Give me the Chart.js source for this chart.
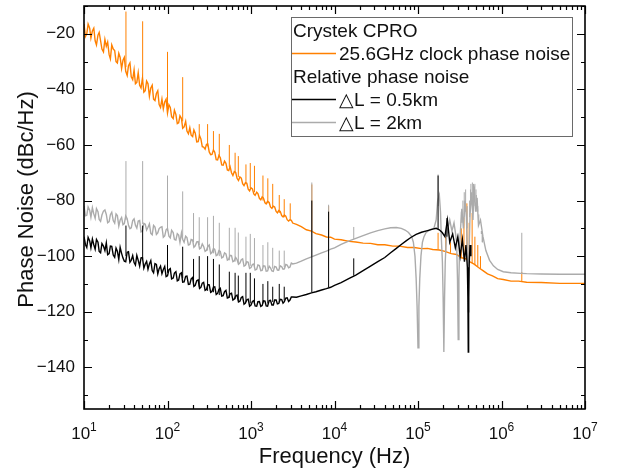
<!DOCTYPE html>
<html>
<head>
<meta charset="utf-8">
<script src="https://cdn.jsdelivr.net/npm/chart.js@4"></script>
<style>
  html, body { margin: 0; padding: 0; background: #fff; }
  #wrap { width: 620px; height: 472px; }
</style>
</head>
<body>
<div id="wrap"><canvas id="pnChart" width="620" height="472"></canvas></div>
<script>
// offset frequency grids for the noisy low part (Hz), shared by the three traces
const freqLow = [10, 10.8, 11.7, 12.6, 13.6, 14.7, 15.8, 17.1, 18.5, 20,
  21.5, 23.3, 25.1, 27.1, 29.3, 31.6, 34.1, 36.8, 39.8, 42.9,
  46.4, 50.1, 54.1, 58.4, 63.1, 68.1, 73.6, 79.4, 85.8, 92.6,
  100, 108, 117, 126, 136, 147, 158, 171, 185, 200,
  215, 233, 251, 271, 293, 316, 341, 368, 398, 429,
  464, 501, 541, 584, 631, 681, 736, 794, 858, 926,
  1000, 1080, 1170, 1260, 1360, 1470, 1580, 1710, 1850, 2000,
  2150, 2330, 2510, 2710, 2930, 3160];
const freqMid = [10.4, 11.2, 12.1, 13.1, 14.1, 15.2, 16.4, 17.8, 19.2, 20.7,
  22.4, 24.2, 26.1, 28.2, 30.4, 32.9, 35.5, 38.3, 41.3, 44.6,
  48.2, 52.1, 56.2, 60.7, 65.6, 70.8, 76.5, 82.5, 89.1, 96.2,
  104, 112, 121, 131, 141, 152, 165, 178, 192, 207,
  224, 242, 261, 282, 304, 329, 355, 383, 413, 446,
  482, 521, 562, 607, 656, 708, 765, 825, 891, 962,
  1040, 1120, 1210, 1310, 1410, 1520, 1650, 1780, 1920, 2070,
  2240, 2420, 2610, 2820, 3040];

// Crystek CPRO 25.6GHz clock phase noise (dBc/Hz)
const orangeLow = [-16.5, -20, -18, -19, -22.5, -20.5, -22.5, -26.5, -24.5, -27.5,
  -24, -26, -30.5, -28.5, -29.5, -33.5, -31.5, -35.5, -33, -37.5,
  -38.5, -36, -40.5, -38, -39.5, -43.5, -41.5, -45.5, -43.5, -44.5,
  -48.5, -46.5, -50.5, -49, -52, -50.5, -53.5, -55, -53.8, -57,
  -55.8, -58.8, -57.8, -60.8, -59.8, -62.5, -63.4, -62.6, -65.4, -64.6,
  -67.3, -66.6, -69.2, -70, -69.6, -72, -71.5, -73.9, -73.6, -75.9,
  -75.4, -77.6, -77, -79.2, -78.7, -80.8, -80.3, -82.3, -82, -83.9,
  -83.6, -85.4, -85.2, -86.9, -86.9, -88.1];
const orangeMid = [-21, -16.5, -21.5, -18, -24, -19.5, -25.5, -22, -23, -29,
  -25.5, -30, -27, -32.5, -28.5, -35, -30.5, -36.5, -38, -34,
  -39.5, -41, -37, -42.5, -38.5, -44, -40.5, -46.5, -47, -43.5,
  -45.5, -49.8, -47.5, -52.3, -49.5, -54, -51.5, -56, -56.5, -54.6,
  -58.9, -56.6, -60.6, -61.5, -59.7, -63.5, -61.8, -65.3, -63.8, -67.2,
  -65.8, -69, -67.8, -71, -69.9, -72.8, -71.9, -74.6, -73.8, -76.5,
  -75.8, -78.1, -77.5, -79.7, -79.1, -81.2, -80.7, -82.8, -82.3, -84.4,
  -83.9, -85.9, -85.6, -87.4, -87.1];
const orangeHighF = [3500, 4000, 4600, 5300, 6000, 7000, 8000, 9000, 10000, 12000,
  15000, 18000, 22000, 27000, 33000, 40000, 50000, 60000, 75000, 90000,
  110000, 130000, 150000, 180000, 210000, 250000, 290000, 330000, 370000, 420000,
  470000, 530000, 600000, 680000, 780000, 900000, 1050000, 1300000, 1600000, 2000000,
  3000000, 5000000, 10000000];
const orangeHigh = [-88.6, -89.4, -90.5, -91, -91.9, -92.4, -93.1, -93.2, -93.9, -94.1,
  -94.7, -94.9, -95.3, -95.4, -95.9, -95.9, -96.4, -96.4, -96.9, -96.9,
  -97.3, -97.2, -97.6, -97.8, -98.3, -99.1, -99.4, -100.6, -100.9, -102.1,
  -102.9, -104.1, -105.2, -106.4, -107.1, -108.1, -108.4, -109, -109, -109.4,
  -109.5, -109.8, -109.8];
const orangeSpikeF = [31.8, 50.4, 100, 152, 240, 302, 355, 417, 550, 645,
  705, 870, 980, 1100, 1390, 1590, 1820, 2180, 2500, 2950,
  5350, 8500, 174000, 215000, 245000, 330000, 355000, 385000, 410000, 445000,
  480000, 520000, 560000, 1750000];
const orangeSpikeBase = [-32, -37, -47.5, -51.5, -57, -60.5, -62, -64, -68, -70,
  -71.5, -74, -75.5, -77, -80, -81, -82.5, -84.5, -86, -87,
  -91, -93, -97.6, -98.3, -98.8, -100.4, -100.8, -101.3, -101.8, -102.5,
  -103.2, -103.8, -104.5, -109.2];
const orangeSpikeTop = [-12, -15.5, -26.5, -35.6, -52.5, -52.5, -55, -56, -60, -62.8,
  -64, -67, -66.5, -67.5, -71, -72, -74, -78, -79.5, -81,
  -74.2, -82, -91.6, -93, -95, -90, -86, -81, -88, -84.5,
  -93, -96, -100, -105.7];

// relative phase noise, dL = 0.5km
const blackLow = [-93, -96.9, -94.5, -93.8, -97.5, -95, -98.8, -96.4, -95.2, -99.1,
  -96.5, -100.4, -98.2, -96.8, -100.7, -102, -98.4, -101.5, -102.3, -99.7,
  -103.6, -100.5, -102.8, -104.7, -101.6, -106, -103, -104.5, -106.3, -103.7,
  -107.1, -104.5, -107.9, -105.6, -108.6, -106, -109.3, -107.2, -110.1, -107.7,
  -110.5, -108.5, -111.2, -109.4, -112, -110.3, -112.7, -111, -113.4, -111.6,
  -114.2, -112.3, -114.9, -113.3, -115.4, -114, -116.2, -114.6, -116.9, -115.5,
  -117.6, -116, -118, -116.3, -117.8, -116.2, -118, -115.9, -117.6, -115.8,
  -117, -115.6, -116.4, -115, -115.8, -114.7];
const blackMid = [-95.8, -93.2, -97, -95.9, -94, -98.3, -95.5, -98, -99.5, -96.4,
  -99.6, -97.1, -101.2, -99, -101.8, -98.6, -102.2, -99.8, -103.2, -101.5,
  -100.6, -104.3, -101.9, -102.8, -105.2, -102.7, -106.4, -103.6, -104.8, -107.4,
  -104.9, -108.2, -106.1, -108.9, -106.4, -109.4, -107.3, -110.2, -108.2, -110.9,
  -108.8, -111.6, -109.7, -112.3, -110.2, -113, -111.1, -113.8, -112, -114.4,
  -112.8, -115.1, -113.5, -115.8, -114.3, -116.5, -114.9, -117.3, -115.7, -118,
  -116.3, -117.9, -116.4, -118.1, -116.1, -117.9, -116, -117.6, -115.8, -117.2,
  -115.5, -116.9, -115.1, -116.3, -114.7];
const blackHighF = [3500, 4000, 4600, 5300, 6000, 7000, 8000, 9000, 10000, 12000,
  15000, 18000, 22000, 27000, 33000, 40000, 47000, 55000, 63000, 72000,
  82000, 95000, 110000, 130000, 150000, 165000, 180000, 195000, 210000, 225000,
  240000, 260000, 280000, 300000, 320000, 340000, 360000, 375000, 390000, 396000,
  400000, 404000, 410000, 420000, 430000];
const blackHigh = [-114.8, -114.3, -113.8, -113.2, -112.8, -112.2, -111.7, -111.2, -110.5, -109.5,
  -108, -106.8, -105.2, -103.6, -102, -100.5, -98.8, -97.2, -95.8, -94.5,
  -93.3, -92.2, -91.4, -90.8, -90.3, -90, -90.5, -91.5, -93, -87,
  -95, -92, -97, -93, -100, -94, -102, -96, -104, -115,
  -134.5, -115, -103, -96, -100];
const blackSpikeF = [31.8, 50.4, 100, 152, 205, 240, 302, 355, 417, 550,
  645, 705, 870, 980, 1100, 1390, 1590, 1820, 2180, 2500,
  5350, 8500, 17000, 174000, 222000];
const blackSpikeBase = [-100, -101, -106, -108, -110, -111, -112.5, -113, -114, -115,
  -115.5, -116, -116.5, -117, -117, -117, -117, -116.5, -116.5, -116,
  -113, -111.3, -107, -90.2, -93];
const blackSpikeTop = [-89, -89, -96, -96.6, -101, -100, -100, -101, -103, -105.6,
  -106, -107, -106, -106, -108, -110, -109, -111, -110, -111,
  -80, -84, -100.8, -71, -86.3];

// relative phase noise, dL = 2km
const grayLow = [-82, -85.3, -83.5, -82.6, -86.4, -84, -87.5, -83.8, -85, -87.6,
  -84.2, -88.1, -85.4, -87, -88.7, -85.5, -88.9, -89.8, -86.6, -89.9,
  -87.2, -91, -88.5, -89.6, -91.8, -88.9, -92.2, -90.1, -89.4, -92.7,
  -90, -93.4, -91.5, -94.2, -92.4, -91.6, -95, -93.3, -95.8, -94.2,
  -96.3, -94.8, -97.1, -96.5, -97.9, -96, -98.7, -97.6, -99.5, -98.3,
  -100.3, -99.2, -101.1, -99.8, -101.7, -101.2, -102.5, -101, -103.3, -102.2,
  -104.1, -102.8, -104.7, -103.4, -105.1, -103.6, -105.3, -104.2, -105.5, -103.9,
  -105.1, -103.8, -104.6, -103.2, -103.9, -102.8];
const grayMid = [-85.5, -82.3, -86, -84.8, -82.9, -86.8, -85.2, -83.4, -88, -85.1,
  -87.2, -84.8, -89.2, -86.1, -88.3, -86.5, -90.1, -87.2, -88.9, -87.4,
  -91.3, -88.2, -90.6, -88.4, -92.3, -89.5, -91.6, -89.6, -93.2, -90.5,
  -92.8, -90.7, -94, -91.9, -95.1, -93.9, -92.8, -96, -94, -96.8,
  -94.9, -97.4, -95.6, -98.3, -96.5, -99.1, -97.2, -99.8, -98, -100.6,
  -98.8, -101.4, -99.7, -102, -100.5, -102.9, -101.3, -103.6, -102, -104.4,
  -103, -105, -103.2, -105.2, -103.5, -105.4, -103.6, -105.3, -103.7, -105,
  -103.5, -104.7, -103, -104.2, -102.5];
const grayHighF = [3500, 4000, 4600, 5300, 6000, 7000, 8000, 9000, 10000, 12000,
  15000, 18000, 22000, 27000, 33000, 40000, 47000, 55000, 63000, 70000,
  77000, 84000, 88000, 92000, 95000, 97500, 100000, 102500, 105000, 108500,
  113000, 118000, 125000, 140000, 155000, 165000, 172000, 180000, 186000, 190000,
  196000, 200000, 204000, 208000, 212000, 218000, 228000, 240000, 255000, 270000,
  282000, 290000, 297000, 303000, 309000, 316000, 325000, 335000, 350000, 365000,
  380000, 392000, 400000, 408000, 420000, 440000, 455000, 470000, 490000, 510000,
  530000, 560000, 600000, 650000, 720000, 800000, 900000, 1050000, 1300000, 1700000,
  2000000, 3000000, 5000000, 10000000];
const grayHigh = [-102.5, -101.8, -101, -100.3, -99.6, -98.8, -98.2, -97.5, -97, -95.8,
  -94.5, -93.6, -92.6, -91.6, -90.8, -90.2, -89.8, -89.7, -90, -90.6,
  -91.5, -93, -95, -100, -108, -118, -133, -118, -108, -100,
  -95, -93, -91.5, -90.5, -90, -87, -80, -78, -84, -93,
  -102, -115, -134.5, -115, -102, -94, -90, -87, -91, -88,
  -92, -95, -108, -130, -108, -95, -89, -83, -90, -80,
  -86, -100, -120, -100, -85, -77, -87, -75, -84, -79,
  -89, -87, -93, -98, -101.5, -103.5, -104.8, -105.6, -106, -106.2,
  -106.3, -106.4, -106.5, -106.5];
const graySpikeF = [31.8, 50.4, 100, 152, 205, 240, 302, 355, 417, 550,
  645, 705, 870, 980, 1100, 1390, 1590, 1820, 2180, 2500,
  5350, 8500, 17000, 174000, 330000, 345000, 358000, 372000, 388000, 415000,
  425000, 430000, 448000, 462000, 468000, 480000, 495000, 500000, 505000, 520000,
  535000, 545000, 575000, 590000, 1750000];
const graySpikeBase = [-87, -88.5, -91, -93, -95, -96, -98, -99, -100, -101.5,
  -102, -102.5, -103, -103.5, -104, -104, -104.5, -104.5, -104.5, -104,
  -100.3, -98, -93.8, -82, -88, -88, -86, -84, -90, -86,
  -82, -80, -82, -83, -82, -80, -83, -83, -84, -84,
  -88, -88, -91, -92, -106.2];
const graySpikeTop = [-65.8, -65.8, -71, -76.7, -84.5, -86, -86, -85.5, -88, -89.8,
  -89.8, -91.5, -93, -92, -93.5, -96, -95, -97, -98, -98,
  -73.5, -81.5, -89.5, -70.6, -84, -80, -77, -76, -82, -80,
  -76, -74, -73.5, -74, -74.5, -74, -76, -78, -80, -82,
  -85, -88, -92, -95, -91.6];

// axis ticks
const xTickExponents = [1, 2, 3, 4, 5, 6, 7];
const xMinorSteps = [2, 3, 4, 5, 6, 7, 8, 9];
const yMin = -155, yMax = -10, yStep = 10, yLabelStep = 20;

const FONT = '"Liberation Sans", Arial, Helvetica, sans-serif';
const ORANGE = '#ff8000', BLACK = '#000000', GRAY = '#ababab';

function toPoints(fs, vs) {
    return fs.map((f, i) => ({ x: f, y: vs[i] }));
}
function byX(a, b) { return a.x - b.x; }
function spikePoints(fs, base, top) {
    const pts = [];
    fs.forEach((f, i) => {
        pts.push({ x: f, y: base[i] }, { x: f, y: top[i] }, { x: f, y: null });
    });
    return pts;
}
function trace(low, mid, highF, high) {
    return toPoints(freqLow, low).concat(toPoints(freqMid, mid)).sort(byX)
        .concat(toPoints(highF, high));
}

// frame, inward ticks, x labels, titles and the boxed legend
const decorations = {
    id: 'decorations',
    afterDraw(chart) {
        const ctx = chart.ctx, a = chart.chartArea;
        const xs = chart.scales.x, ys = chart.scales.y;
        ctx.save();

        ctx.strokeStyle = '#000';
        ctx.lineWidth = 1.2;
        ctx.beginPath();
        xs.ticks.forEach(t => {
            const px = Math.round(xs.getPixelForValue(t.value)) + 0.5;
            const len = t.major ? 8 : 4;
            ctx.moveTo(px, a.bottom); ctx.lineTo(px, a.bottom - len);
            ctx.moveTo(px, a.top); ctx.lineTo(px, a.top + len);
        });
        ys.ticks.forEach(t => {
            const py = Math.round(ys.getPixelForValue(t.value)) + 0.5;
            const len = t.value % yLabelStep === 0 ? 8 : 4;
            ctx.moveTo(a.left, py); ctx.lineTo(a.left + len, py);
            ctx.moveTo(a.right, py); ctx.lineTo(a.right - len, py);
        });
        ctx.stroke();
        ctx.lineWidth = 1.6;
        ctx.strokeRect(a.left, a.top, a.right - a.left, a.bottom - a.top);

        // 10^n labels
        ctx.fillStyle = '#111';
        ctx.textAlign = 'left';
        ctx.textBaseline = 'alphabetic';
        xs.ticks.filter(t => t.major).forEach(t => {
            const px = xs.getPixelForValue(t.value);
            const exp = String(Math.round(Math.log10(t.value)));
            ctx.font = '17px ' + FONT;
            const wb = ctx.measureText('10').width;
            ctx.font = '12px ' + FONT;
            const we = ctx.measureText(exp).width;
            const x0 = px - (wb + we) / 2;
            ctx.font = '17px ' + FONT;
            ctx.fillText('10', x0, a.bottom + 30);
            ctx.font = '12px ' + FONT;
            ctx.fillText(exp, x0 + wb, a.bottom + 22);
        });

        // axis titles
        ctx.font = '22px ' + FONT;
        ctx.textAlign = 'center';
        ctx.fillText('Frequency (Hz)', (a.left + a.right) / 2, a.bottom + 54);
        ctx.save();
        ctx.translate(33, (a.top + a.bottom) / 2 - 8);
        ctx.rotate(-Math.PI / 2);
        ctx.fillText('Phase Noise (dBc/Hz)', 0, 0);
        ctx.restore();

        // legend box
        const lx = 291, ly = 17, lw = 281, lh = 119;
        ctx.fillStyle = '#fff';
        ctx.fillRect(lx, ly, lw, lh);
        ctx.strokeStyle = '#6a6a6a';
        ctx.lineWidth = 1;
        ctx.strokeRect(lx + 0.5, ly + 0.5, lw, lh);
        const rows = [
            { text: 'Crystek CPRO', base: 37 },
            { text: '25.6GHz clock phase noise', base: 60, color: ORANGE },
            { text: 'Relative phase noise', base: 83 },
            { text: '\u25B3L = 0.5km', base: 106, color: BLACK },
            { text: '\u25B3L = 2km', base: 129, color: GRAY }
        ];
        ctx.font = '19px ' + FONT;
        ctx.textAlign = 'left';
        rows.forEach(r => {
            ctx.fillStyle = '#111';
            if (r.color) {
                ctx.strokeStyle = r.color;
                ctx.lineWidth = 1.3;
                ctx.beginPath();
                ctx.moveTo(292, r.base - 6.5);
                ctx.lineTo(336, r.base - 6.5);
                ctx.stroke();
                ctx.fillText(r.text, 339, r.base);
            } else {
                ctx.fillText(r.text, 293, r.base);
            }
        });
        ctx.restore();
    }
};

const lineStyle = { pointRadius: 0, tension: 0, fill: false, spanGaps: false };

new Chart(document.getElementById('pnChart'), {
    type: 'line',
    data: {
        datasets: [
            Object.assign({ label: '\u25B3L = 0.5km', data: trace(blackLow, blackMid, blackHighF, blackHigh), borderColor: BLACK, borderWidth: 1.4 }, lineStyle),
            Object.assign({ label: 'spikes 0.5km', data: spikePoints(blackSpikeF, blackSpikeBase, blackSpikeTop), borderColor: BLACK, borderWidth: 1 }, lineStyle),
            Object.assign({ label: '\u25B3L = 2km', data: trace(grayLow, grayMid, grayHighF, grayHigh), borderColor: GRAY, borderWidth: 1.4 }, lineStyle),
            Object.assign({ label: 'spikes 2km', data: spikePoints(graySpikeF, graySpikeBase, graySpikeTop), borderColor: GRAY, borderWidth: 1 }, lineStyle),
            Object.assign({ label: '25.6GHz clock phase noise', data: trace(orangeLow, orangeMid, orangeHighF, orangeHigh), borderColor: ORANGE, borderWidth: 1.4 }, lineStyle),
            Object.assign({ label: 'spikes clock', data: spikePoints(orangeSpikeF, orangeSpikeBase, orangeSpikeTop), borderColor: ORANGE, borderWidth: 1 }, lineStyle)
        ]
    },
    options: {
        responsive: false,
        animation: false,
        events: [],
        layout: { padding: { top: 6, right: 35, left: 0, bottom: 0 } },
        plugins: { legend: { display: false }, tooltip: { enabled: false } },
        scales: {
            x: {
                type: 'logarithmic',
                min: Math.pow(10, xTickExponents[0]),
                max: Math.pow(10, xTickExponents[xTickExponents.length - 1]),
                grid: { display: false, drawTicks: false },
                border: { display: false },
                ticks: { display: false, autoSkip: false },
                afterBuildTicks(scale) {
                    const ticks = [];
                    xTickExponents.forEach((e, i) => {
                        ticks.push({ value: Math.pow(10, e), major: true });
                        if (i < xTickExponents.length - 1) {
                            xMinorSteps.forEach(m => ticks.push({ value: m * Math.pow(10, e), major: false }));
                        }
                    });
                    scale.ticks = ticks;
                },
                afterFit(scale) {
                    scale.height = 63;
                    scale.paddingLeft = 0;
                    scale.paddingRight = 0;
                }
            },
            y: {
                type: 'linear',
                min: yMin,
                max: yMax,
                grid: { display: false, drawTicks: false },
                border: { display: false },
                ticks: {
                    stepSize: yStep,
                    includeBounds: false,
                    autoSkip: false,
                    padding: 9,
                    color: '#111',
                    font: { family: FONT, size: 17 },
                    callback: v => (v % yLabelStep === 0 ? '\u2212' + Math.abs(v) : '')
                },
                afterFit(scale) {
                    scale.width = 84;
                    scale.paddingTop = 0;
                    scale.paddingBottom = 0;
                }
            }
        }
    },
    plugins: [decorations]
});
</script>
</body>
</html>
